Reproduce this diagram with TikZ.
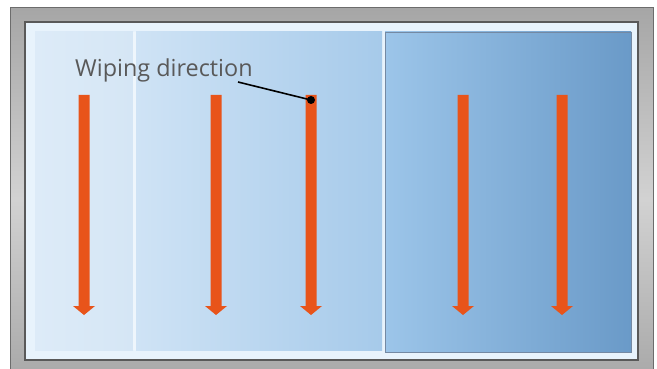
\documentclass[tikz,border=0pt]{standalone}
\usepackage{fontspec}
\setmainfont{Open Sans}
\definecolor{arr}{HTML}{E8541A}
\definecolor{txt}{HTML}{595959}
\definecolor{frameA}{HTML}{A6A6A6}
\definecolor{frameB}{HTML}{D2D2D2}
\definecolor{panel}{HTML}{E8F3FC}
\definecolor{paneAl}{HTML}{DDEBF8}
\definecolor{paneAr}{HTML}{D5E6F5}
\definecolor{paneBl}{HTML}{CFE3F5}
\definecolor{paneBr}{HTML}{A6CAEA}
\definecolor{paneCl}{HTML}{9CC5E9}
\definecolor{paneCr}{HTML}{6A9AC8}
\definecolor{divider}{HTML}{EEF6FC}
\definecolor{paneedge}{HTML}{7489A3}
\tikzset{
  wipearrow/.style={fill=arr},
  lbl/.style={text=txt,font=\fontsize{23.4}{26}\selectfont,inner sep=0pt,anchor=base west},
}
\newcommand{\wipearr}[1]{%
  \fill[wipearrow] (#1-5.5,95) -- (#1+5.5,95) -- (#1+5.5,306) -- (#1+11,306) -- (#1,315) -- (#1-11,306) -- (#1-5.5,306) -- cycle;}
\begin{document}
\begin{tikzpicture}[x=1pt,y=-1pt]
\useasboundingbox (0,0) rectangle (657,369);
\clip (0,0) rectangle (657,369);
% outer frame
\shade[top color=frameA,bottom color=frameA,middle color=frameB] (10,8) rectangle (653,390);
\draw[gray!85!black,line width=1pt] (10,8) rectangle (653,390);
% inner dark border and light panel
\fill[panel] (25,22) rectangle (638,360);
\draw[black!65,line width=1.6pt] (25,22) rectangle (638,360);
% left pane
\shade[left color=paneAl,right color=paneAr] (35,32) rectangle (133,350);
\shade[left color=paneBl,right color=paneBr] (136,32) rectangle (382,350);
\fill[divider] (133,32) rectangle (136,350);
% right pane
\shade[left color=paneCl,right color=paneCr] (385,32) rectangle (631,352);
\draw[paneedge,line width=0.8pt] (385,32) rectangle (631,352);
% arrows
\wipearr{84}
\wipearr{216}
\wipearr{311}
\wipearr{463}
\wipearr{562}
% label
\node[lbl] (lbl) at (75,77) {Wiping direction};
\coordinate (dot) at (311,100);
\draw[black,line width=1.6pt] (238,82) -- (dot);
\fill[black] (dot) circle (4);
\end{tikzpicture}
\end{document}
